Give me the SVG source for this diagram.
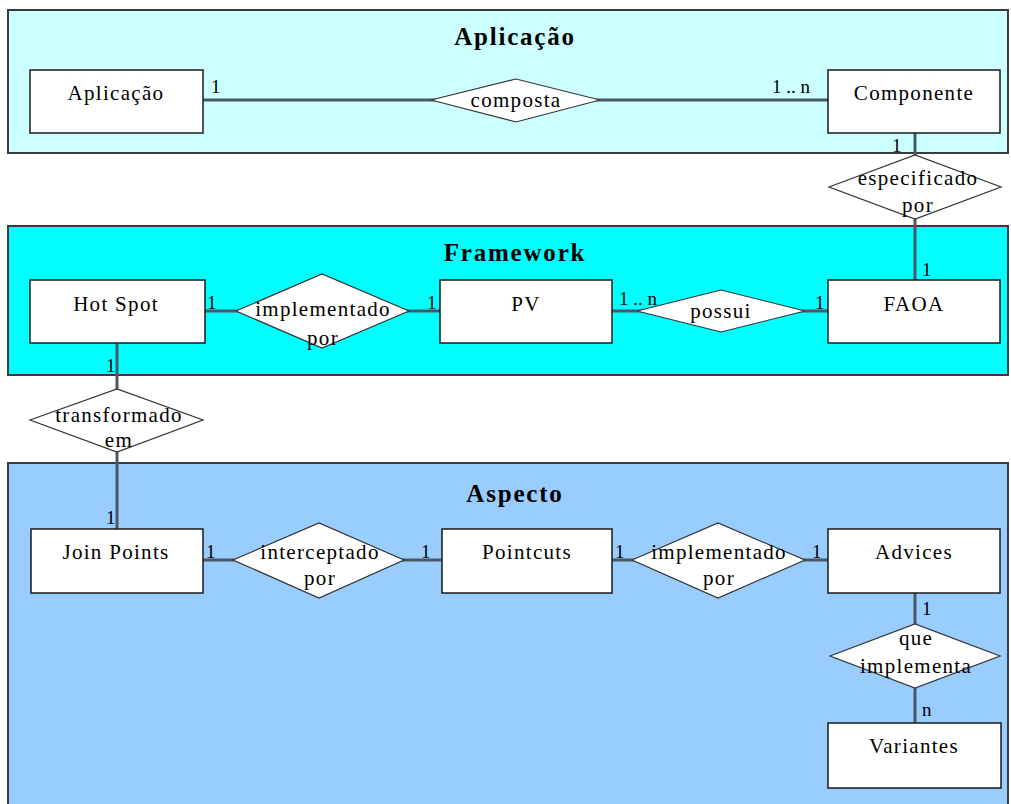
<svg xmlns="http://www.w3.org/2000/svg" width="1011" height="804" viewBox="0 0 1011 804" font-family="'Liberation Serif', 'DejaVu Serif', serif">
  <style>
    .panel { stroke: #3a3a3a; stroke-width: 2; }
    .ent { fill: #ffffff; stroke: #1a1a1a; stroke-width: 1.5; }
    .rel { fill: #ffffff; stroke: #333333; stroke-width: 1.2; }
    .conn { stroke: #4a5866; stroke-width: 3; fill: none; }
    .title { font-family: 'Liberation Serif', serif; font-size: 25px; font-weight: bold; text-anchor: middle; letter-spacing: 1.8px; }
    .lbl { font-family: 'Liberation Serif', serif; font-size: 21px; text-anchor: middle; letter-spacing: 1.3px; }
    .card { font-family: 'Liberation Serif', serif; font-size: 19px; }
  </style>

  <!-- layer panels -->
  <g id="panel-aplicacao">
    <rect class="panel" x="8" y="10" width="1000" height="143" fill="#ccffff"/>
    <text class="title" x="515" y="45">Aplicação</text>
  </g>
  <g id="panel-framework">
    <rect class="panel" x="8" y="226" width="1000" height="149" fill="#00ffff"/>
    <text class="title" x="515" y="261">Framework</text>
  </g>
  <g id="panel-aspecto">
    <rect class="panel" x="8" y="463" width="1000" height="345" fill="#99ccff"/>
    <text class="title" x="515" y="502">Aspecto</text>
  </g>

  <!-- connectors -->
  <g id="connectors">
    <line class="conn" x1="203" y1="100" x2="828" y2="100"/>
    <line class="conn" x1="915" y1="133" x2="915" y2="283"/>
    <line class="conn" x1="205" y1="311" x2="828" y2="311"/>
    <line class="conn" x1="117" y1="343" x2="117" y2="529"/>
    <line class="conn" x1="203" y1="560" x2="828" y2="560"/>
    <line class="conn" x1="915" y1="593" x2="915" y2="723"/>

    <text class="card" x="211" y="93">1</text>
    <text class="card" x="772" y="93">1 .. n</text>
    <text class="card" x="892" y="152">1</text>
    <text class="card" x="922" y="276">1</text>
    <text class="card" x="207" y="309">1</text>
    <text class="card" x="427" y="309">1</text>
    <text class="card" x="619" y="305">1 .. n</text>
    <text class="card" x="815" y="309">1</text>
    <text class="card" x="106" y="372">1</text>
    <text class="card" x="106" y="524">1</text>
    <text class="card" x="206" y="558">1</text>
    <text class="card" x="421" y="558">1</text>
    <text class="card" x="615" y="558">1</text>
    <text class="card" x="812" y="558">1</text>
    <text class="card" x="922" y="615">1</text>
    <text class="card" x="922" y="716">n</text>
  </g>

  <!-- entities -->
  <g id="aplicacao">
    <rect class="ent" x="30" y="70" width="173" height="63"/>
    <text class="lbl" x="116" y="100">Aplicação</text>
  </g>
  <g id="componente">
    <rect class="ent" x="828" y="70" width="172" height="63"/>
    <text class="lbl" x="914" y="100">Componente</text>
  </g>
  <g id="hotspot">
    <rect class="ent" x="30" y="280" width="175" height="63"/>
    <text class="lbl" x="116" y="311">Hot Spot</text>
  </g>
  <g id="pv">
    <rect class="ent" x="440" y="280" width="172" height="63"/>
    <text class="lbl" x="526" y="311">PV</text>
  </g>
  <g id="faoa">
    <rect class="ent" x="828" y="280" width="172" height="63"/>
    <text class="lbl" x="914" y="311">FAOA</text>
  </g>
  <g id="joinpoints">
    <rect class="ent" x="31" y="529" width="172" height="64"/>
    <text class="lbl" x="116" y="559">Join Points</text>
  </g>
  <g id="pointcuts">
    <rect class="ent" x="442" y="529" width="170" height="64"/>
    <text class="lbl" x="527" y="559">Pointcuts</text>
  </g>
  <g id="advices">
    <rect class="ent" x="828" y="529" width="172" height="64"/>
    <text class="lbl" x="914" y="559">Advices</text>
  </g>
  <g id="variantes">
    <rect class="ent" x="828" y="723" width="173" height="65"/>
    <text class="lbl" x="914" y="753">Variantes</text>
  </g>

  <!-- relationships -->
  <g id="rel-composta">
    <polygon class="rel" points="431,100 516,79 600,100 516,122"/>
    <text class="lbl" x="516" y="107">composta</text>
  </g>
  <g id="rel-especificado">
    <polygon class="rel" points="829,187 915,155 1001,187 915,219"/>
    <text class="lbl" x="918" y="185">especificado</text>
    <text class="lbl" x="918" y="212">por</text>
  </g>
  <g id="rel-implementado-pv">
    <polygon class="rel" points="236,311 322,274 409,311 322,348"/>
    <text class="lbl" x="323" y="316">implementado</text>
    <text class="lbl" x="323" y="345">por</text>
  </g>
  <g id="rel-possui">
    <polygon class="rel" points="637,311 721,290 805,311 721,332"/>
    <text class="lbl" x="721" y="318">possui</text>
  </g>
  <g id="rel-transformado">
    <polygon class="rel" points="30,420 117,389 203,420 117,452"/>
    <text class="lbl" x="119" y="422">transformado</text>
    <text class="lbl" x="119" y="447">em</text>
  </g>
  <g id="rel-interceptado">
    <polygon class="rel" points="233,560 319,523 404,560 319,598"/>
    <text class="lbl" x="320" y="559">interceptado</text>
    <text class="lbl" x="320" y="585">por</text>
  </g>
  <g id="rel-implementado-adv">
    <polygon class="rel" points="632,560 718,523 805,560 718,598"/>
    <text class="lbl" x="719" y="559">implementado</text>
    <text class="lbl" x="719" y="585">por</text>
  </g>
  <g id="rel-que-implementa">
    <polygon class="rel" points="830,656 915,624 1000,656 915,688"/>
    <text class="lbl" x="916" y="645">que</text>
    <text class="lbl" x="916" y="673">implementa</text>
  </g>
</svg>
